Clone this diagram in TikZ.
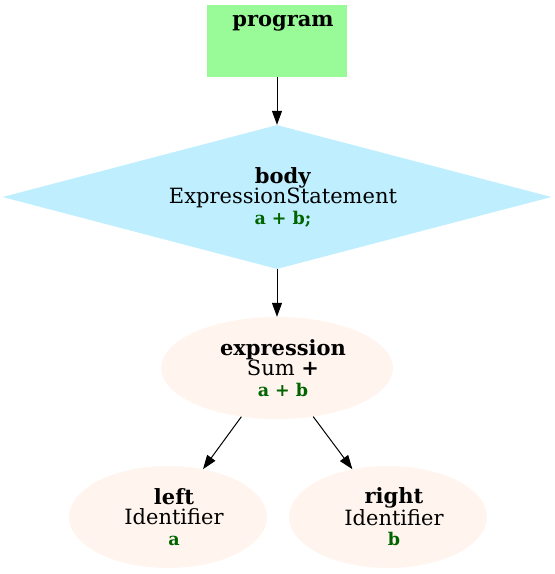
\documentclass[tikz,border=0pt]{standalone}
\usepackage{fontspec}
\setmainfont{DejaVu Serif}
\usetikzlibrary{shapes.geometric,arrows.meta}
\definecolor{progfill}{RGB}{152,251,152}
\definecolor{bodyfill}{RGB}{191,239,255}
\definecolor{exprfill}{RGB}{255,245,238}
\definecolor{srcgreen}{RGB}{0,100,0}
\newcommand\srctext[1]{{\fontsize{17.5}{20.5}\selectfont\bfseries\color{srcgreen}#1}}
\tikzset{
  astnode/.style={inner sep=0pt, align=center, font=\fontsize{21}{20.5}\selectfont},
  asttext/.style={label={[astnode, xshift=6pt]center:#1}},
  progbox/.style={astnode, rectangle, fill=progfill, minimum width=140pt, minimum height=72pt},
  stmtbox/.style={astnode, diamond, aspect=3.81, fill=bodyfill, minimum width=549pt, minimum height=144pt},
  exprbox/.style={astnode, ellipse, fill=exprfill, minimum height=102pt},
  edge/.style={-{Triangle[length=14pt,width=10pt]}, line width=1pt}
}
\begin{document}
\begin{tikzpicture}[x=1pt,y=-1pt]
  \useasboundingbox (0,0) rectangle (555,574);
  %% the nodes
  \node[progbox, label={[astnode, anchor=base, xshift=6pt, yshift=-22pt]north:\textbf{program}}] (program) at (277,41) {};
  \node[stmtbox, asttext={\textbf{body}\\ExpressionStatement\\\srctext{a + b;}}] (body) at (277,197) {};
  \node[exprbox, minimum width=232pt, asttext={\textbf{expression}\\Sum \textbf{+}\\\srctext{a + b}}] (expression) at (277,368) {};
  \node[exprbox, minimum width=198pt, asttext={\textbf{left}\\Identifier\\\srctext{a}}] (left) at (168,517) {};
  \node[exprbox, minimum width=198pt, asttext={\textbf{right}\\Identifier\\\srctext{b}}] (right) at (388,517) {};
  %% the edges
  \draw[edge] (program) -- (body);
  \draw[edge] (body) -- (expression);
  \draw[edge] (expression) -- (left);
  \draw[edge] (expression) -- (right);
\end{tikzpicture}
\end{document}
